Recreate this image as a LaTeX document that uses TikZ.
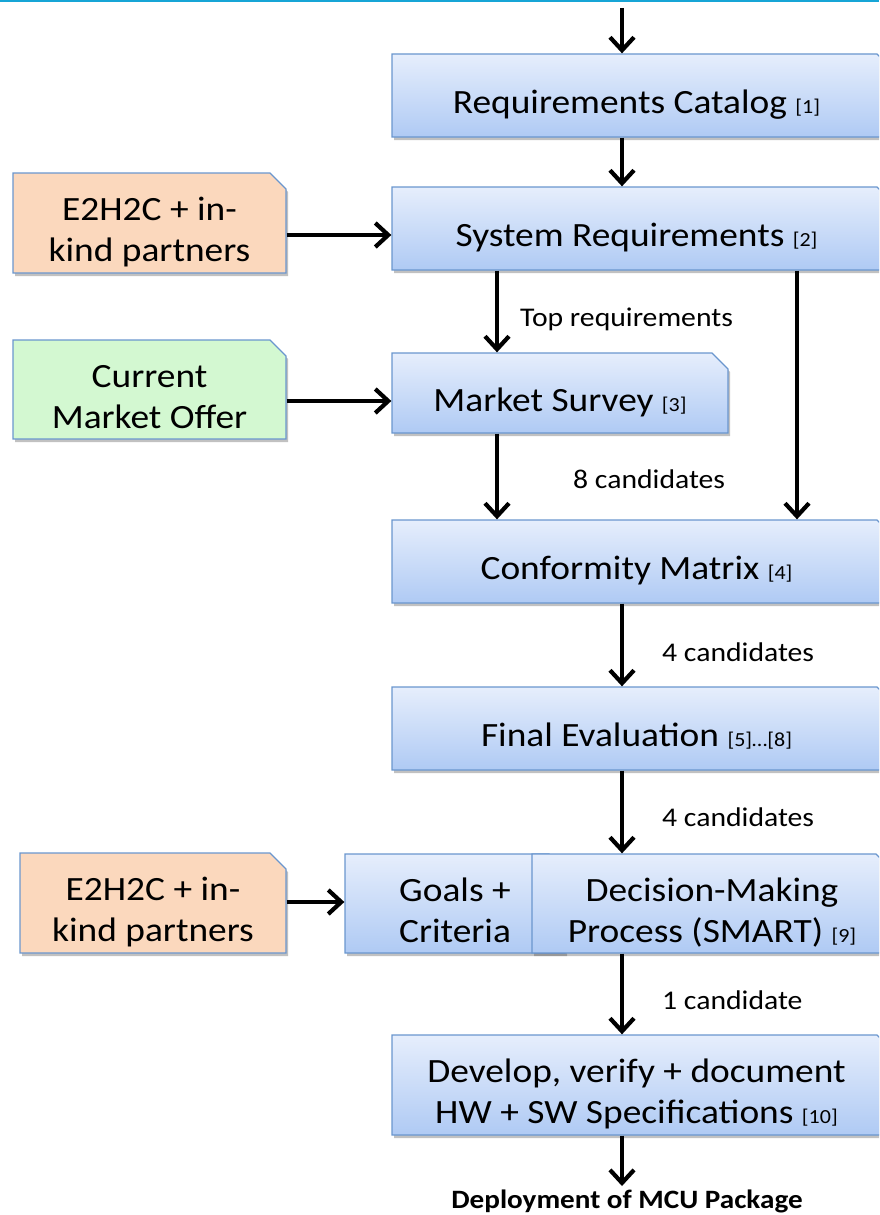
\documentclass[tikz,border=0pt]{standalone}
\usepackage{fontspec}
\setmainfont{Carlito}[FakeStretch=1.1]
\usetikzlibrary{shapes.misc,shadows,arrows.meta}
\definecolor{boxtop}{HTML}{E6EEFC}
\definecolor{boxbot}{HTML}{AFCAF4}
\definecolor{boxline}{HTML}{6A96CE}
\definecolor{orangefill}{HTML}{FBD8BD}
\definecolor{greenfill}{HTML}{D3F8D1}
\definecolor{topline}{HTML}{17A5D6}
\newcommand{\refn}[1]{{\fontsize{20}{24}\selectfont #1}}
\newcommand{\bigtext}{\fontsize{34}{41}\selectfont}
\newcommand{\lbltext}{\fontsize{27}{32}\selectfont}
% text boxes of zero height/depth: baseline placed relative to the node centre
\newcommand{\onetext}[1]{\raisebox{-18pt}[0pt][0pt]{#1}}
\newcommand{\twotext}[1]{\raisebox{2.5pt}[0pt][0pt]{\begin{tabular}[t]{@{}c@{}}#1\end{tabular}}}
\newcommand{\padr}{\hspace*{12pt}}
\tikzset{
  snipbox/.style={chamfered rectangle, chamfered rectangle corners=north east,
    chamfered rectangle xsep=16pt, chamfered rectangle ysep=16pt,
    draw=boxline, line width=1.3pt, inner sep=0pt,
    font=\bigtext,
    drop shadow={shadow xshift=2pt, shadow yshift=-3pt, opacity=0.35, fill=black!70}},
  flowbox/.style={snipbox, top color=boxtop, bottom color=boxbot},
  orangebox/.style={snipbox, fill=orangefill},
  greenbox/.style={snipbox, fill=greenfill},
  arr/.style={line width=4.2pt, -{Straight Barb[length=13pt,width=24pt]}},
  lbl/.style={anchor=west, font=\lbltext, inner sep=0pt}
}
\begin{document}
\begin{tikzpicture}[x=1pt,y=-1pt]
\useasboundingbox (0,0) rectangle (879,1215);
\clip (0,0) rectangle (879,1215);
\draw[topline, line width=3pt] (0,1) -- (879,1);

% main flow boxes
\node[flowbox, minimum width=501pt, minimum height=83pt] (req) at (642.5,95.5) {\onetext{Requirements Catalog \refn{[1]}}\padr};
\node[flowbox, minimum width=501pt, minimum height=83pt] (sys) at (642.5,228.5) {\onetext{System Requirements \refn{[2]}}\padr};
\node[flowbox, minimum width=336pt, minimum height=80pt] (ms) at (560,393) {\onetext{Market Survey \refn{[3]}}};
\node[flowbox, minimum width=501pt, minimum height=83pt] (conf) at (642.5,561.5) {\onetext{Conformity Matrix \refn{[4]}}\padr};
\node[flowbox, minimum width=501pt, minimum height=83pt] (fin) at (642.5,728.5) {\onetext{Final Evaluation \refn{[5]…[8]}}\padr};
\node[flowbox, minimum width=220pt, minimum height=99pt] (goals) at (455,903.5) {\twotext{Goals +\\Criteria}};
\node[flowbox, minimum width=360pt, minimum height=99pt] (dec) at (712,903.5) {\twotext{Decision-Making\\Process (SMART) \refn{[9]}}};
\node[flowbox, minimum width=501pt, minimum height=100pt] (dev) at (642.5,1085) {\twotext{Develop, verify + document\\HW + SW Specifications \refn{[10]}}\padr};

% side boxes
\node[orangebox, minimum width=273pt, minimum height=100pt] (e1) at (149.5,223) {\twotext{E2H2C + in-\\kind partners}};
\node[greenbox, minimum width=273pt, minimum height=99pt] (cmo) at (149.5,389.5) {\twotext{Current\\Market Offer}};
\node[orangebox, minimum width=266pt, minimum height=100pt] (e2) at (153,903) {\twotext{E2H2C + in-\\kind partners}};

% reference coordinates
\coordinate (cx) at (622,0);
\coordinate (lx) at (497,0);
\coordinate (rx) at (797,0);
\coordinate (start) at (622,8);
\coordinate (finish) at (622,1186);
\coordinate (ya) at (0,235);
\coordinate (yb) at (0,401);
\coordinate (yc) at (0,902);

% connectors
\draw[arr] (start) -- (req.north -| cx);
\draw[arr] (req.south -| cx) -- (sys.north -| cx);
\draw[arr] (sys.south -| lx) -- (ms.north -| lx);
\draw[arr] (sys.south -| rx) -- (conf.north -| rx);
\draw[arr] (ms.south -| lx) -- (conf.north -| lx);
\draw[arr] (conf.south -| cx) -- (fin.north -| cx);
\draw[arr] (fin.south -| cx) -- (dec.north -| cx);
\draw[arr] (dec.south -| cx) -- (dev.north -| cx);
\draw[arr] (dev.south -| cx) -- (finish);
\draw[arr] (e1.east |- ya) -- (sys.west |- ya);
\draw[arr] (cmo.east |- yb) -- (ms.west |- yb);
\draw[arr] (e2.east |- yc) -- (goals.west |- yc);

% labels
\node[lbl] (l1) at (520,319) {Top requirements};
\node[lbl] (l2) at (573,479) {8 candidates};
\node[lbl] (l3) at (662,652) {4 candidates};
\node[lbl] (l4) at (662,817) {4 candidates};
\node[lbl] (l5) at (662,1000) {1 candidate};
\node[font=\fontsize{26.5}{31}\selectfont\bfseries, inner sep=0pt] (deploy) at (627,1201) {Deployment of MCU Package};
\end{tikzpicture}
\end{document}
